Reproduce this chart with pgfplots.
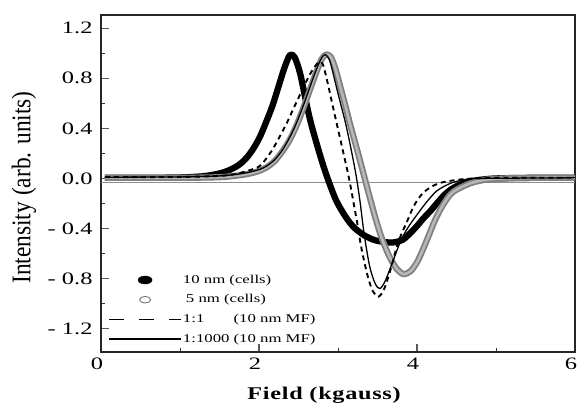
\documentclass[border=0pt]{standalone}
\usepackage{fontspec}
\setmainfont{Liberation Serif}
\newfontfamily\tickfont[FakeStretch=1.4]{Liberation Serif}
\newfontfamily\legfont[FakeStretch=1.4]{Liberation Serif}
\newfontfamily\xlabfont[FakeStretch=1.35,LetterSpace=4]{Liberation Serif}
\usepackage{graphicx}
\usepackage{pgfplots}
\pgfplotsset{compat=1.18}
\begin{document}
\begin{tikzpicture}
\begin{axis}[
  scale only axis, width=474bp, height=337bp,
  xmin=0, xmax=6, ymin=-1.387, ymax=1.306,
  xtick={0,2,4,6}, xticklabels={0,2,4,6},
  ytick={-1.2,-0.8,-0.4,0,0.4,0.8,1.2},
  yticklabels={- 1.2,- 0.8,- 0.4,0.0,0.4,0.8,1.2},
  minor x tick num=1, minor y tick num=1,
  tick align=inside, xtick pos=bottom, ytick pos=left,
  major tick length=8bp, minor tick length=4bp,
  major tick style={black!65, line width=1.1pt},
  minor tick style={black!80, line width=0.9pt},
  axis line style={black!85, line width=1.1pt},
  every tick label/.append style={font=\tickfont\fontsize{17.5}{20}\selectfont},
  yticklabel style={xshift=-5bp},
  xticklabel style={xshift=-4bp, yshift=-2bp},
  xlabel={\bfseries Field (kgauss)},
  ylabel={\scalebox{1}[1.15]{Intensity (arb. units)}},
  every axis x label/.style={at={(axis description cs:0.5,0)}, xshift=-14bp, yshift=-47bp, anchor=base, font=\xlabfont\fontsize{18}{21}\selectfont},
  every axis y label/.style={at={(axis description cs:0,0.5)}, xshift=-77bp, yshift=-4bp, rotate=90, anchor=center, font=\fontsize{23.5}{26}\selectfont},
  legend style={at={(axis description cs:0,0)}, anchor=south west, xshift=7bp, yshift=5.7bp,
    draw=none, fill=none, inner sep=0pt, row sep=5.7bp, column sep=0pt,
    font=\legfont\fontsize{12}{14}\selectfont,
    nodes={inner sep=1bp, text height=9bp, text depth=3bp}},
  legend cell align=left,
]
% zero line
\addplot[forget plot, black!45, line width=0.8pt] coordinates {(0,-0.032) (6,-0.032)};
% 10 nm (cells)
\addplot[forget plot, black, line width=6.3pt, line join=round, smooth] coordinates {
(0.05,0.005)(0.5,0.005)(1.0,0.008)(1.3,0.018)(1.5,0.04)(1.6,0.06)(1.7,0.09)(1.77,0.12)(1.85,0.17)(1.93,0.24)(2.01,0.33)(2.09,0.45)(2.17,0.58)(2.25,0.74)(2.32,0.88)(2.39,0.985)(2.45,0.97)(2.52,0.84)(2.59,0.63)(2.65,0.46)(2.72,0.3)(2.8,0.13)(2.88,-0.02)(2.98,-0.18)(3.1,-0.31)(3.2,-0.39)(3.32,-0.45)(3.45,-0.49)(3.6,-0.51)(3.72,-0.51)(3.82,-0.49)(3.91,-0.44)(4.0,-0.38)(4.08,-0.32)(4.17,-0.26)(4.25,-0.2)(4.35,-0.13)(4.45,-0.08)(4.58,-0.04)(4.75,-0.015)(5.0,0.0)(5.5,0.005)(6.0,0.005)};
% 5 nm (cells)
\addplot[forget plot, black!50, line width=6.3pt, line join=round, smooth] coordinates {
(0.05,0.005)(1.0,0.005)(1.5,0.01)(1.75,0.025)(1.89,0.04)(2.0,0.06)(2.1,0.09)(2.2,0.14)(2.3,0.22)(2.39,0.31)(2.48,0.43)(2.56,0.56)(2.64,0.70)(2.72,0.84)(2.79,0.95)(2.85,0.99)(2.91,0.97)(2.97,0.87)(3.03,0.73)(3.09,0.59)(3.15,0.44)(3.25,0.21)(3.33,0.02)(3.41,-0.17)(3.48,-0.33)(3.55,-0.47)(3.64,-0.61)(3.74,-0.72)(3.83,-0.765)(3.92,-0.74)(4.0,-0.67)(4.06,-0.59)(4.14,-0.47)(4.23,-0.33)(4.33,-0.21)(4.42,-0.13)(4.5,-0.09)(4.67,-0.04)(4.85,-0.012)(5.1,0.0)(5.5,0.005)(6.0,0.005)};
\addplot[forget plot, black!28, line width=2.6pt, line join=round, smooth] coordinates {
(0.05,0.005)(1.0,0.005)(1.5,0.01)(1.75,0.025)(1.89,0.04)(2.0,0.06)(2.1,0.09)(2.2,0.14)(2.3,0.22)(2.39,0.31)(2.48,0.43)(2.56,0.56)(2.64,0.70)(2.72,0.84)(2.79,0.95)(2.85,0.99)(2.91,0.97)(2.97,0.87)(3.03,0.73)(3.09,0.59)(3.15,0.44)(3.25,0.21)(3.33,0.02)(3.41,-0.17)(3.48,-0.33)(3.55,-0.47)(3.64,-0.61)(3.74,-0.72)(3.83,-0.765)(3.92,-0.74)(4.0,-0.67)(4.06,-0.59)(4.14,-0.47)(4.23,-0.33)(4.33,-0.21)(4.42,-0.13)(4.5,-0.09)(4.67,-0.04)(4.85,-0.012)(5.1,0.0)(5.5,0.005)(6.0,0.005)};
% 1:1 (10 nm MF)
\addplot[forget plot, black, line width=1.9pt, dash pattern=on 5bp off 4bp, smooth] coordinates {
(0.05,0.01)(1.0,0.012)(1.5,0.02)(1.7,0.035)(1.85,0.06)(1.95,0.08)(2.03,0.11)(2.16,0.22)(2.25,0.32)(2.35,0.44)(2.43,0.55)(2.52,0.67)(2.61,0.79)(2.69,0.88)(2.76,0.93)(2.81,0.91)(2.87,0.76)(2.93,0.59)(2.98,0.45)(3.03,0.31)(3.08,0.17)(3.13,0.03)(3.17,-0.1)(3.21,-0.24)(3.25,-0.38)(3.28,-0.5)(3.32,-0.63)(3.38,-0.79)(3.44,-0.9)(3.51,-0.945)(3.58,-0.89)(3.66,-0.74)(3.72,-0.6)(3.78,-0.48)(3.87,-0.35)(3.96,-0.22)(4.07,-0.12)(4.2,-0.06)(4.33,-0.03)(4.6,-0.005)(5.0,0.005)(6.0,0.005)};
% 1:1000 (10 nm MF)
\addplot[forget plot, black, line width=1.3pt, smooth] coordinates {
(0.05,0.01)(1.0,0.012)(1.5,0.02)(1.8,0.04)(2.0,0.07)(2.1,0.1)(2.2,0.15)(2.3,0.23)(2.4,0.34)(2.48,0.45)(2.56,0.58)(2.64,0.72)(2.72,0.86)(2.79,0.96)(2.84,0.99)(2.89,0.95)(2.93,0.86)(2.98,0.73)(3.04,0.58)(3.1,0.43)(3.17,0.22)(3.23,0.02)(3.28,-0.19)(3.33,-0.44)(3.4,-0.7)(3.47,-0.84)(3.53,-0.88)(3.59,-0.83)(3.66,-0.72)(3.72,-0.62)(3.78,-0.52)(3.85,-0.43)(3.92,-0.36)(4.0,-0.29)(4.12,-0.19)(4.25,-0.1)(4.42,-0.04)(4.6,-0.01)(4.8,0.0)(6.0,0.005)};
% legend
\addlegendimage{legend image code/.code={\path (0bp,0bp) (72bp,0bp); \fill[black] (36bp,0bp) ellipse [x radius=7bp, y radius=4bp];}}
\addlegendentry{10 nm (cells)}
\addlegendimage{legend image code/.code={\path (0bp,0bp) (72bp,0bp); \draw[black!55, line width=0.9pt] (36bp,0bp) ellipse [x radius=5.5bp, y radius=3.3bp];}}
\addlegendentry{\hspace{3bp}5 nm (cells)}
\addlegendimage{legend image code/.code={\draw[black, line width=1.8pt, dash pattern=on 15bp off 15bp] (0bp,0bp) -- (72bp,0bp);}}
\addlegendentry{1:1\phantom{000} (10 nm MF)}
\addlegendimage{legend image code/.code={\draw[black, line width=1.3pt] (0bp,0bp) -- (72bp,0bp);}}
\addlegendentry{1:1000 (10 nm MF)}
\end{axis}
\pgfresetboundingbox
\path ([shift={(-101bp,-58bp)}]current axis.south west) rectangle ([shift={(2bp,15bp)}]current axis.north east);
\end{tikzpicture}
\end{document}
